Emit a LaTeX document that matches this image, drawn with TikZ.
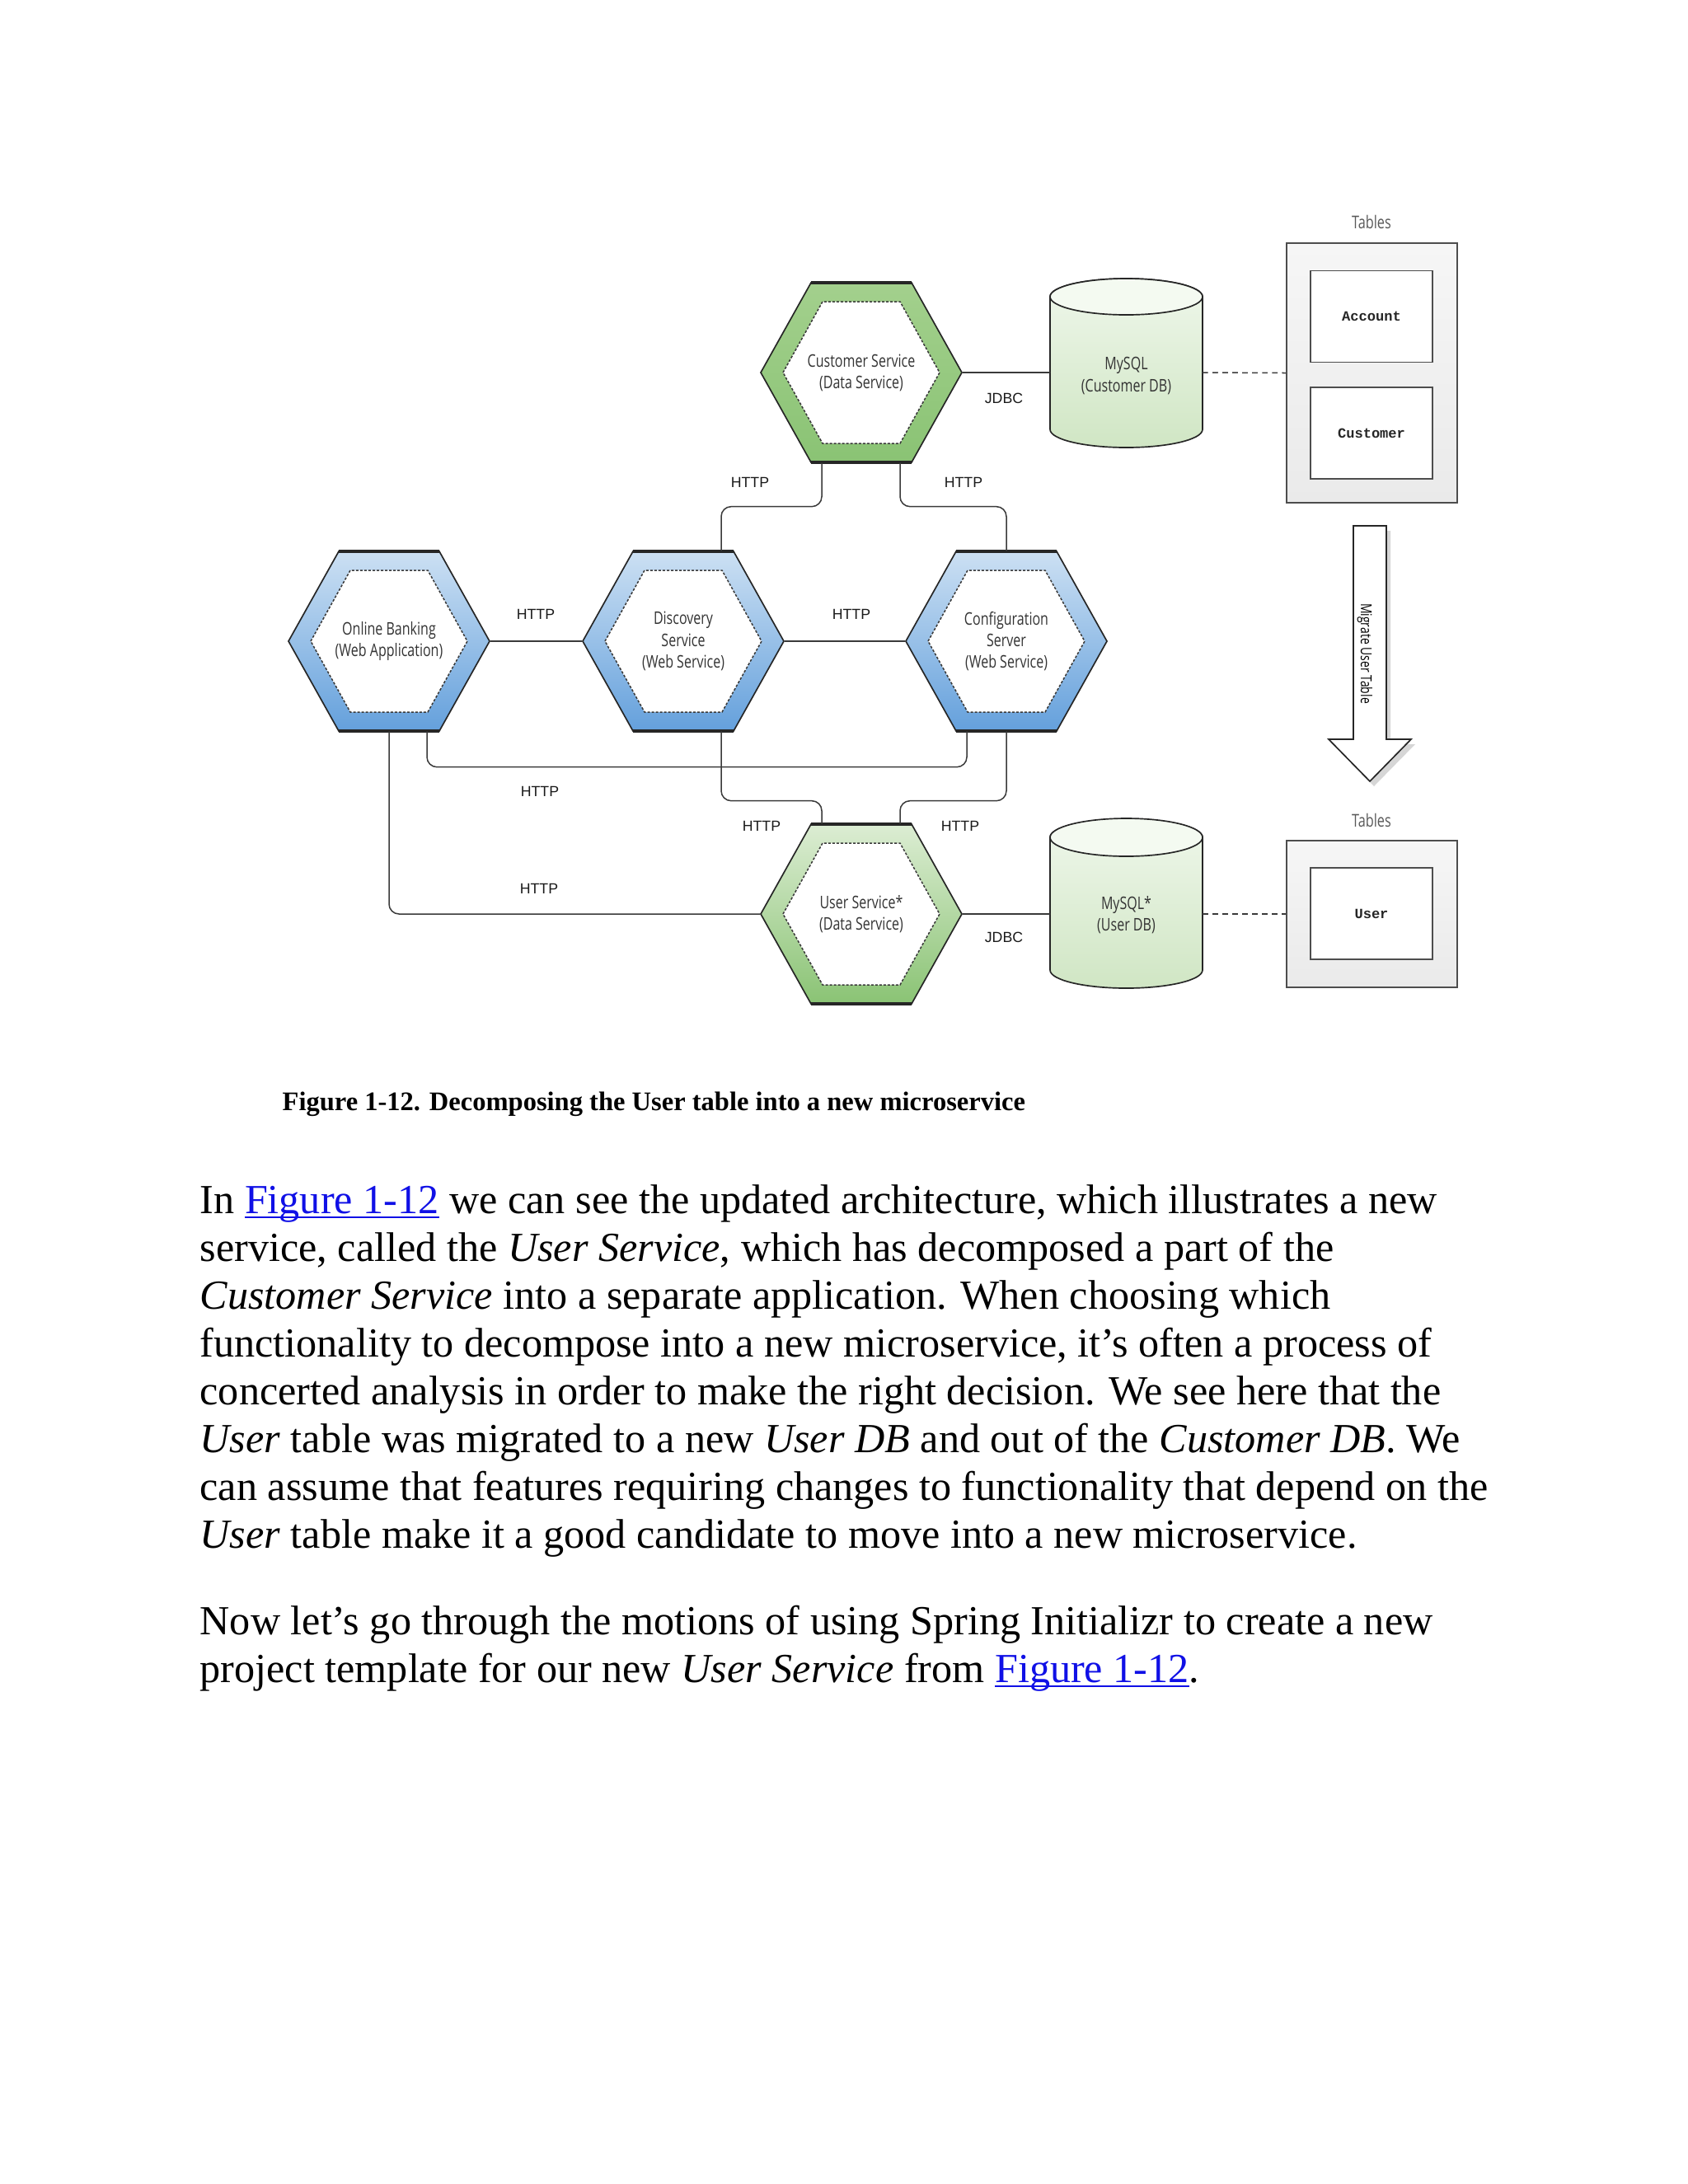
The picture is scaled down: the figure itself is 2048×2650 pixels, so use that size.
\documentclass[tikz,border=0pt]{standalone}
\usepackage{fontspec}
\setmainfont{Liberation Serif}
\newfontfamily\diagfont[FakeStretch=0.76]{Open Sans}
\newfontfamily\lblfont{Liberation Sans}
\newfontfamily\tblfont{Liberation Mono}
\usetikzlibrary{calc}
\definecolor{hexline}{HTML}{262626}
\definecolor{innerline}{HTML}{3A3A3A}
\definecolor{hextext}{HTML}{333333}
\definecolor{connline}{HTML}{3A3A3A}
\definecolor{lbltext}{HTML}{1A1A1A}
\definecolor{boxline}{HTML}{4D4D4D}
\definecolor{tbltop}{HTML}{F6F6F6}
\definecolor{tblbot}{HTML}{EAEAEA}
\definecolor{greentopA}{HTML}{A3D08D}
\definecolor{greenbotA}{HTML}{8AC374}
\definecolor{greentopB}{HTML}{DCEDD3}
\definecolor{greenbotB}{HTML}{8AC374}
\definecolor{bluetop}{HTML}{CCE0F3}
\definecolor{bluebot}{HTML}{64A0DC}
\definecolor{cyltop}{HTML}{EFF7EB}
\definecolor{cylbot}{HTML}{D0E6C4}
\definecolor{cylcap}{HTML}{F4FAF1}
\definecolor{arrowshadow}{HTML}{D6D6D6}
\definecolor{linkblue}{HTML}{1010E6}
\newcommand\lnk[1]{{\color{linkblue}\setbox0\hbox{#1}\rlap{\rule[-1.9pt]{\wd0}{0.65pt}}\box0}}
\newcommand\hexshape[3]{%
  \begin{scope}[shift={#1}]
    \path[draw=hexline, line width=0.5pt, top color=#2, bottom color=#3]
      (-122,0) -- (-61,-109) -- (61,-109) -- (122,0) -- (61,109) -- (-61,109) -- cycle;
    \draw[hexline, line width=1.1pt] (-61,-109) -- (61,-109);
    \draw[hexline, line width=1.1pt] (-61,109) -- (61,109);
    \path[fill=white, draw=innerline, line width=0.45pt, dash pattern=on 0.9pt off 0.6pt]
      (-95,0) -- (-47,-86) -- (47,-86) -- (95,0) -- (47,86) -- (-47,86) -- cycle;
  \end{scope}}
\begin{document}
\begin{tikzpicture}[x=0.298828pt, y=-0.298828pt,
  hexnode/.style={shape=rectangle, minimum width=72.91pt, minimum height=65.14pt, inner sep=0pt,
    align=center, font=\diagfont\fontsize{6.3}{7.8}\selectfont, text=hextext},
  dbtext/.style={align=center, inner sep=0pt, font=\diagfont\fontsize{6.3}{7.8}\selectfont, text=hextext},
  conn/.style={draw=connline, line width=0.45pt, rounded corners=3.6pt},
  dashconn/.style={draw=connline, line width=0.45pt, dash pattern=on 2pt off 1.6pt},
  lbl/.style={font=\lblfont\fontsize{5.3}{6}\selectfont, text=lbltext, inner sep=0pt},
  tbllabel/.style={font=\diagfont\fontsize{6.4}{7}\selectfont, text=black!65, inner sep=0pt},
  tblouter/.style={draw=boxline, line width=0.5pt, top color=tbltop, bottom color=tblbot,
    minimum width=61.86pt, inner sep=0pt},
  tblinner/.style={draw=boxline, fill=white, line width=0.5pt, minimum width=44.23pt,
    minimum height=33.1pt, inner sep=0pt, font=\tblfont\bfseries\fontsize{5.1}{6}\selectfont, text=black!85},
  bodytext/.style={anchor=base west, inner sep=0pt, font=\fontsize{15}{17.3}\selectfont},
  captext/.style={anchor=base west, inner sep=0pt, font=\bfseries\fontsize{9.72}{11}\selectfont}
]
\useasboundingbox[fill=white] (0,0) rectangle (2048,2650);

% ---- hexagons ----
\hexshape{(1045,452)}{greentopA}{greenbotA}
\hexshape{(472,778)}{bluetop}{bluebot}
\hexshape{(829,778)}{bluetop}{bluebot}
\hexshape{(1221,778)}{bluetop}{bluebot}
\hexshape{(1045,1109)}{greentopB}{greenbotB}

\node[hexnode] (cs) at (1045,452) {Customer Service\\(Data Service)};
\node[hexnode] (ob) at (472,778) {Online Banking\\(Web Application)};
\node[hexnode] (disc) at (829,778) {Discovery\\Service\\(Web Service)};
\node[hexnode] (conf) at (1221,778) {Configuration\\Server\\(Web Service)};
\node[hexnode] (us) at (1045,1109) {User Service*\\(Data Service)};

% ---- cylinders ----
\path[draw=hexline, line width=0.5pt, top color=cyltop, bottom color=cylbot]
  (1274,360) -- (1274,521) arc[start angle=180, end angle=0, x radius=92.5, y radius=22]
  -- (1459,360) arc[start angle=0, end angle=-180, x radius=92.5, y radius=22] -- cycle;
\draw[hexline, line width=0.5pt, fill=cylcap] (1366.5,360) ellipse[x radius=92.5, y radius=22];
\node[dbtext] (cdb) at (1366.5,456) {MySQL\\(Customer DB)};
\coordinate (cdbL) at (1274,452);
\coordinate (cdbR) at (1459,452);

\path[draw=hexline, line width=0.5pt, top color=cyltop, bottom color=cylbot]
  (1274,1016) -- (1274,1177) arc[start angle=180, end angle=0, x radius=92.5, y radius=22]
  -- (1459,1016) arc[start angle=0, end angle=-180, x radius=92.5, y radius=22] -- cycle;
\draw[hexline, line width=0.5pt, fill=cylcap] (1366.5,1016) ellipse[x radius=92.5, y radius=23];
\node[dbtext] (udb) at (1366.5,1110) {MySQL*\\(User DB)};
\coordinate (udbL) at (1274,1109);
\coordinate (udbR) at (1459,1109);

% ---- tables ----
\node[tbllabel] (t1lab) at (1664,269) {Tables};
\node[tblouter, minimum height=94.13pt] (tbl1) at (1664.5,452.5) {};
\node[tblinner] (acc) at (1664,384) {Account};
\node[tblinner] (cust) at (1664,525.5) {Customer};

\node[tbllabel] (t2lab) at (1664,995) {Tables};
\node[tblouter, minimum height=53.19pt] (tbl2) at (1664.5,1109) {};
\node[tblinner] (usr) at (1664,1108.5) {User};

% ---- migrate arrow ----
\fill[arrowshadow] (1647,644) -- (1687,644) -- (1687,903) -- (1717,903) -- (1667,954) -- (1617,903) -- (1647,903) -- cycle;
\draw[hexline, line width=0.5pt, fill=white] (1642,638) -- (1682,638) -- (1682,897) -- (1712,897) -- (1662,948) -- (1612,897) -- (1642,897) -- cycle;
\node[rotate=-90, inner sep=0pt, font=\diagfont\fontsize{5.5}{6}\selectfont, text=black] (mig) at (1656,793) {Migrate User Table};

% ---- connectors ----
\draw[conn] ($(cs.south)+(-48,0)$) -- ++(0,53) -| ($(disc.north)+(46,0)$);
\draw[conn] ($(cs.south)+(47,0)$) -- ++(0,53) -| (conf.north);
\draw[conn] (ob.east) -- (disc.west);
\draw[conn] (disc.east) -- (conf.west);
\draw[conn] ($(ob.south)+(46,0)$) -- ++(0,43) -| ($(conf.south)+(-48,0)$);
\draw[conn] (ob.south) |- (us.west);
\draw[conn] ($(disc.south)+(46,0)$) -- ++(0,84) -| ($(us.north)+(-48,0)$);
\draw[conn] (conf.south) -- ++(0,84) -| ($(us.north)+(47,0)$);
\draw[conn] (cs.east) -- (cdbL);
\draw[conn] (us.east) -- (udbL);
\draw[dashconn] (cdbR) -- (tbl1.west);
\draw[dashconn] (udbR) -- (tbl2.west);

% ---- labels ----
\node[lbl] (h1) at (910,585) {HTTP};
\node[lbl] (h2) at (1169,585) {HTTP};
\node[lbl] (h3) at (650,745) {HTTP};
\node[lbl] (h4) at (1033,745) {HTTP};
\node[lbl] (h5) at (655,960) {HTTP};
\node[lbl] (h6) at (924,1002) {HTTP};
\node[lbl] (h7) at (1165,1002) {HTTP};
\node[lbl] (h8) at (654,1078) {HTTP};
\node[lbl] (j1) at (1218,483) {JDBC};
\node[lbl] (j2) at (1218,1137) {JDBC};

% ---- caption and body ----
\node[captext] (cap) at (342,1347) {Figure 1-12. Decomposing the User table into a new microservice};
\node[bodytext] (p1) at (242,1472) {In \lnk{Figure 1-12} we can see the updated architecture, which illustrates a new};
\node[bodytext] (p2) at (242,1530) {service, called the \textit{User Service}, which has decomposed a part of the};
\node[bodytext] (p3) at (242,1588) {\textit{Customer Service} into a separate application. When choosing which};
\node[bodytext] (p4) at (242,1646) {functionality to decompose into a new microservice, it’s often a process of};
\node[bodytext] (p5) at (242,1704) {concerted analysis in order to make the right decision. We see here that the};
\node[bodytext] (p6) at (242,1762) {\textit{User} table was migrated to a new \textit{User DB} and out of the \textit{Customer DB}. We};
\node[bodytext] (p7) at (242,1820) {can assume that features requiring changes to functionality that depend on the};
\node[bodytext] (p8) at (242,1878) {\textit{User} table make it a good candidate to move into a new microservice.};
\node[bodytext] (q1) at (242,1983) {Now let’s go through the motions of using Spring Initializr to create a new};
\node[bodytext] (q2) at (242,2041) {project template for our new \textit{User Service} from \lnk{Figure 1-12}.};
\end{tikzpicture}
\end{document}
